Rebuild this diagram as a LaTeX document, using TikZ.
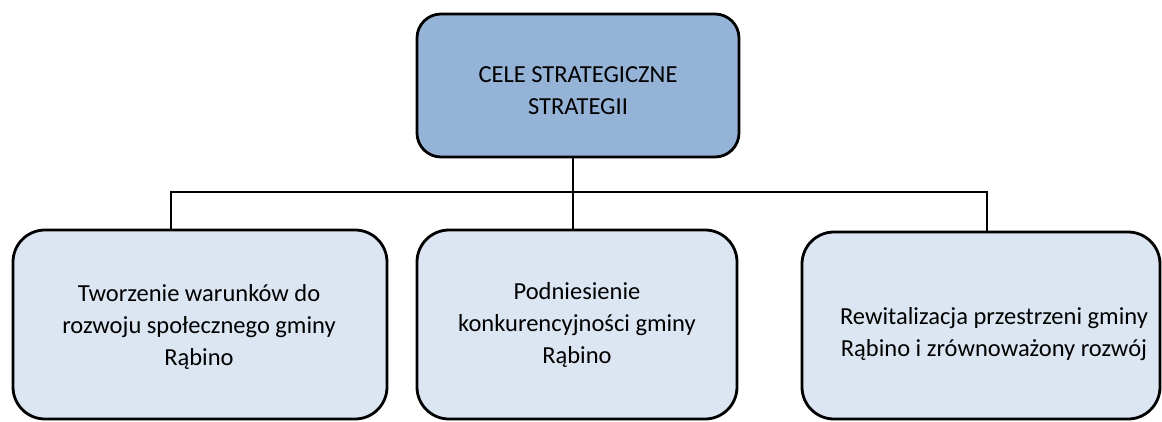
\documentclass[tikz,border=0pt]{standalone}
\usepackage{fontspec}
\setmainfont{Carlito}
\definecolor{topfill}{HTML}{95B3D7}
\definecolor{subfill}{HTML}{DCE6F2}
\begin{document}
\begin{tikzpicture}[x=1pt,y=-1pt,
  box/.style={draw=black, line width=2.8pt, rounded corners=24pt, inner sep=0pt},
  topbox/.style={box, fill=topfill, minimum width=322pt, minimum height=143pt},
  subbox/.style={box, fill=subfill, minimum height=189pt, rounded corners=32pt},
  label/.style={font=\fontsize{24.5}{32}\selectfont, align=center, inner sep=0pt},
  conn/.style={draw=black, line width=1.3pt}]
\useasboundingbox (0,0) rectangle (1162,421);
\node[topbox] (top) at (578,85.5) {};
\node[label] (toptext) at (578,91) {CELE STRATEGICZNE\\STRATEGII};
\node[subbox, minimum width=374pt] (left) at (200,324.5) {};
\node[subbox, minimum width=320pt] (mid) at (577,324.5) {};
\node[subbox, minimum width=358pt, minimum height=187pt] (right) at (981,325.5) {};
\node[label] (lefttext) at (199,327) {Tworzenie warunków do\\rozwoju społecznego gminy\\Rąbino};
\node[label] (midtext) at (577,325) {Podniesienie\\konkurencyjności gminy\\Rąbino};
\node[label] (righttext) at (994,334) {Rewitalizacja przestrzeni gminy\\Rąbino i zrównoważony rozwój};
\coordinate (bus) at (573,192);
\coordinate (dl) at (171,192);
\coordinate (dr) at (987,192);
\draw[conn] (bus |- top.south) -- (bus |- mid.north);
\draw[conn] (dl |- left.north) -- (dl) -- (dr) -- (dr |- right.north);
\end{tikzpicture}
\end{document}
